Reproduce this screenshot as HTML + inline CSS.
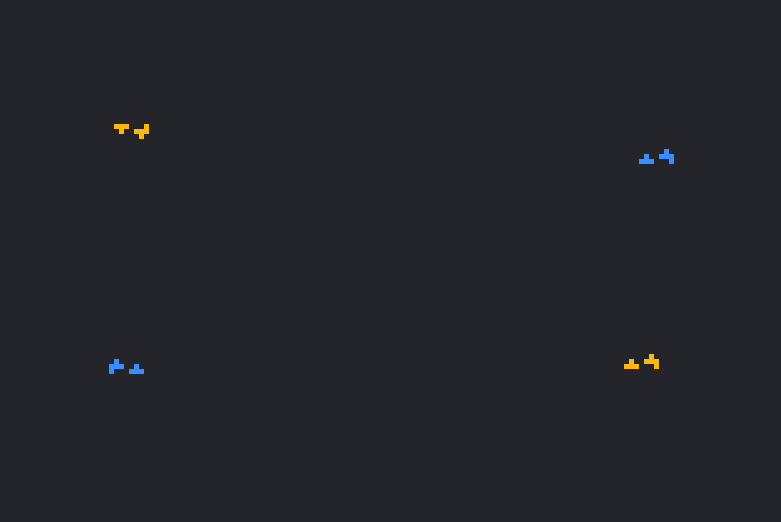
<!DOCTYPE html>
<html><head><meta charset="utf-8"><style>
html,body{margin:0;padding:0;background:#23252a;width:781px;height:522px;overflow:hidden}
svg{display:block}
</style></head><body>
<svg width="781" height="522">
<rect width="781" height="522" fill="#23252a"/>
<g id="g"></g>
</svg>
<script>
const orange = '#ffb70f', blue = '#3a8dff';
const shapeColors = [orange, orange, blue, blue, blue, blue, orange, orange];
const shapeNames = ['orange-t-piece','orange-s-piece','blue-bump-piece','blue-hook-piece','blue-l-piece','blue-bump-piece-2','orange-bump-piece','orange-hook-piece'];
const shapeCells = [
 [[114,124],[119,124],[124,124],[119,129]],
 [[144,124],[134,129],[139,129],[144,129],[139,134]],
 [[644,154],[639,159],[644,159],[649,159]],
 [[664,149],[659,154],[664,154],[669,154],[669,159]],
 [[114,359],[109,364],[114,364],[119,364],[109,369]],
 [[134,364],[129,369],[134,369],[139,369]],
 [[629,359],[624,364],[629,364],[634,364]],
 [[649,354],[644,359],[649,359],[654,359],[654,364]]
];
const g = document.getElementById('g');
const NS = 'http://www.w3.org/2000/svg';
shapeCells.forEach((cells, i) => {
  const grp = document.createElementNS(NS, 'g');
  
  
  cells.forEach(c => {
    const r = document.createElementNS(NS, 'rect');
    r.setAttribute('x', c[0]); r.setAttribute('y', c[1]);
    r.setAttribute('width', 5); r.setAttribute('height', 5);
    r.setAttribute('fill', shapeColors[i]);
    
    
    grp.appendChild(r);
  });
  g.appendChild(grp);
});
</script>
</body></html>
